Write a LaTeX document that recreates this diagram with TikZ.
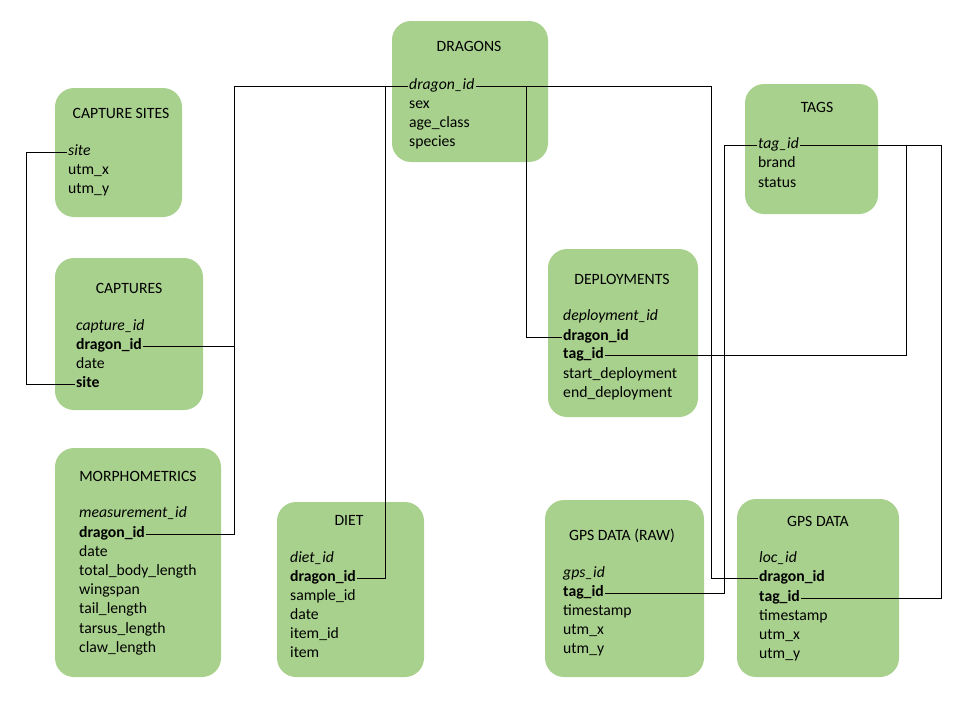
\documentclass[tikz,border=0pt]{standalone}
\usepackage{fontspec}
\setmainfont{Carlito}
\definecolor{boxgreen}{HTML}{A9D18E}
\begin{document}
\begin{tikzpicture}[x=1pt,y=-1pt,
  tbl/.style={fill=boxgreen,rounded corners=19pt},
  ttl/.style={font=\fontsize{15.7}{19}\selectfont,inner sep=0pt,text height=10pt,text depth=0pt,anchor=center},
  fld/.style={font=\fontsize{15.7}{19}\selectfont,inner sep=1pt,text height=6.4pt,text depth=0pt,anchor=west},
  key/.style={fld,font=\fontsize{15.7}{19}\selectfont\itshape},
  fk/.style={fld,font=\fontsize{15.7}{19}\selectfont\bfseries},
  link/.style={draw=black,line width=0.8pt}]
\useasboundingbox (0,0) rectangle (960,720);
% boxes
\fill[tbl] (55,88) rectangle (182,217);
\fill[tbl] (55,258) rectangle (203,410);
\fill[tbl] (55,448) rectangle (221,677);
\fill[tbl] (277,502) rectangle (424,677);
\fill[tbl] (392,21) rectangle (548,162);
\fill[tbl] (548,249) rectangle (698,417);
\fill[tbl] (745,84) rectangle (878,214);
\fill[tbl] (545,500) rectangle (704,677);
\fill[tbl] (737,499) rectangle (899,677);
% CAPTURE SITES
\node[ttl] (cst) at (121,113) {CAPTURE SITES};
\node[key] (cs1) at (67,152) {site};
\node[fld] (cs2) at (67,171) {utm\_x};
\node[fld] (cs3) at (67,190) {utm\_y};
% CAPTURES
\node[ttl] (cat) at (129,288) {CAPTURES};
\node[key] (ca1) at (75,327) {capture\_id};
\node[fk] (ca2) at (75,346) {dragon\_id};
\node[fld] (ca3) at (75,365) {date};
\node[fk] (ca4) at (75,384) {site};
% MORPHOMETRICS
\node[ttl] (mot) at (138,476) {MORPHOMETRICS};
\node[key] (mo1) at (78,514) {measurement\_id};
\node[fk] (mo2) at (78,534) {dragon\_id};
\node[fld] (mo3) at (78,553) {date};
\node[fld] (mo4) at (78,572) {total\_body\_length};
\node[fld] (mo5) at (78,591) {wingspan};
\node[fld] (mo6) at (78,610) {tail\_length};
\node[fld] (mo7) at (78,630) {tarsus\_length};
\node[fld] (mo8) at (78,649) {claw\_length};
% DIET
\node[ttl] (dit) at (349,520) {DIET};
\node[key] (di1) at (289,559) {diet\_id};
\node[fk] (di2) at (289,578) {dragon\_id};
\node[fld] (di3) at (289,597) {sample\_id};
\node[fld] (di4) at (289,616) {date};
\node[fld] (di5) at (289,635) {item\_id};
\node[fld] (di6) at (289,654) {item};
% DRAGONS
\node[ttl] (drt) at (469,46) {DRAGONS};
\node[key] (dr1) at (408,86) {dragon\_id\ };
\node[fld] (dr2) at (408,105) {sex};
\node[fld] (dr3) at (408,124) {age\_class};
\node[fld] (dr4) at (408,143) {species};
% DEPLOYMENTS
\node[ttl] (det) at (622,279) {DEPLOYMENTS};
\node[key] (de1) at (562,317) {deployment\_id};
\node[fk] (de2) at (562,337) {dragon\_id};
\node[fk] (de3) at (562,355) {tag\_id};
\node[fld] (de4) at (562,375) {start\_deployment};
\node[fld] (de5) at (562,394) {end\_deployment};
% TAGS
\node[ttl] (tgt) at (817,107) {TAGS};
\node[key] (tg1) at (757,145) {tag\_id\ };
\node[fld] (tg2) at (757,164) {brand};
\node[fld] (tg3) at (757,184) {status};
% GPS DATA (RAW)
\node[ttl] (grt) at (622,535) {GPS DATA (RAW)};
\node[key] (gr1) at (562,574) {gps\_id};
\node[fk] (gr2) at (562,593) {tag\_id};
\node[fld] (gr3) at (562,612) {timestamp};
\node[fld] (gr4) at (562,631) {utm\_x};
\node[fld] (gr5) at (562,650) {utm\_y};
% GPS DATA
\node[ttl] (gdt) at (818,521) {GPS DATA};
\node[key] (gd1) at (758,559) {loc\_id};
\node[fk] (gd2) at (758,578) {dragon\_id};
\node[fk] (gd3) at (758,598) {tag\_id};
\node[fld] (gd4) at (758,617) {timestamp};
\node[fld] (gd5) at (758,636) {utm\_x};
\node[fld] (gd6) at (758,655) {utm\_y};
% bus coordinates
\coordinate (bA) at (26,0);
\coordinate (bB) at (234,0);
\coordinate (bC) at (385,0);
\coordinate (bD) at (526,0);
\coordinate (bE) at (711,0);
\coordinate (bF) at (724,0);
\coordinate (bG) at (906,0);
\coordinate (bH) at (941,0);
% connectors
\draw[link] (cs1.west) -- (cs1.west -| bA) |- (ca4.west);
\draw[link] (dr1.west) -- (dr1.west -| bB) |- (mo2.east);
\draw[link] (ca2.east) -- (ca2.east -| bB);
\draw[link] (dr1.west -| bC) |- (di2.east);
\draw[link] (dr1.east) -- (dr1.east -| bE) |- (gd2.west);
\draw[link] (dr1.east -| bD) |- (de2.west);
\draw[link] (tg1.east) -- (tg1.east -| bH) |- (gd3.east);
\draw[link] (tg1.east -| bG) |- (de3.east);
\draw[link] (tg1.west) -- (tg1.west -| bF) |- (gr2.east);
\end{tikzpicture}
\end{document}
